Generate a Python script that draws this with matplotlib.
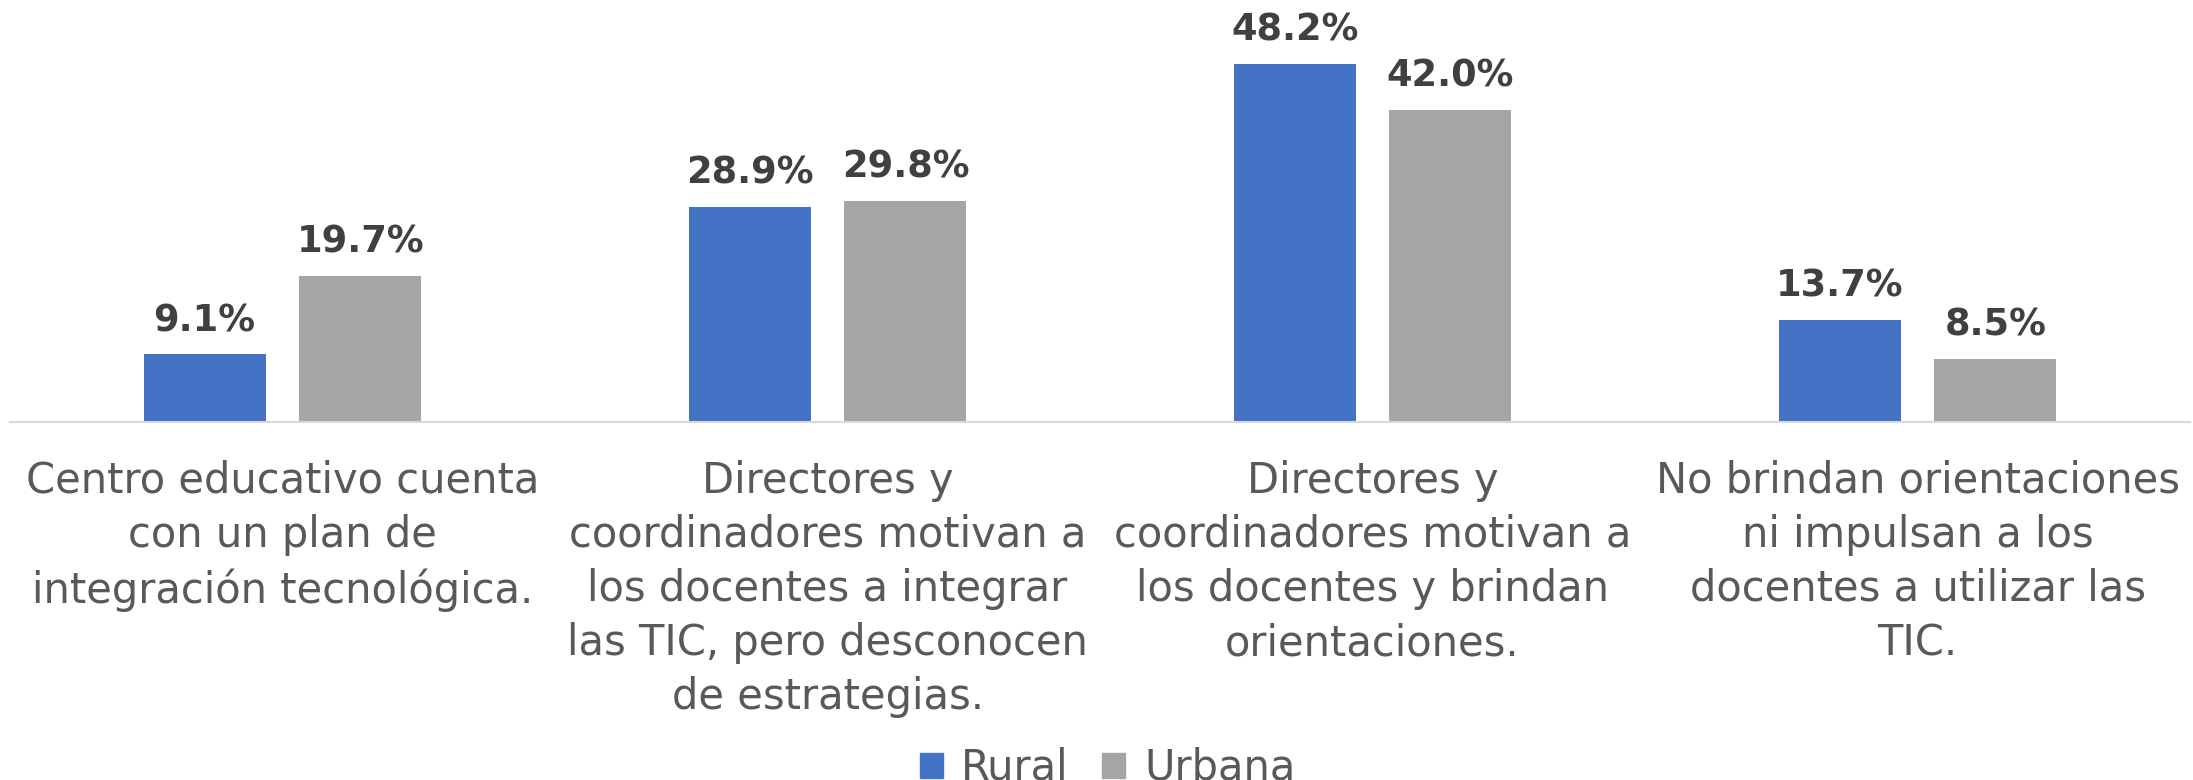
import numpy as np
import matplotlib.pyplot as plt
from matplotlib.patches import Patch

# datos
categorias = [
    "Centro educativo cuenta\ncon un plan de\nintegración tecnológica.",
    "Directores y\ncoordinadores motivan a\nlos docentes a integrar\nlas TIC, pero desconocen\nde estrategias.",
    "Directores y\ncoordinadores motivan a\nlos docentes y brindan\norientaciones.",
    "No brindan orientaciones\nni impulsan a los\ndocentes a utilizar las\nTIC.",
]
rural = [9.1, 28.9, 48.2, 13.7]
urbana = [19.7, 29.8, 42.0, 8.5]
series = ["Rural", "Urbana"]

azul = "#4472C4"
gris = "#A5A5A5"
fuente = "DejaVu Sans"

fig = plt.figure(figsize=(21.93, 7.8), dpi=100)
ax = fig.add_axes([10 / 2193, 1 - 422 / 780, 2180 / 2193, 422 / 780])

x = np.arange(len(categorias))
ancho = 0.224
sep = 0.143
b1 = ax.bar(x - sep, rural, ancho, color=azul, label=series[0])
b2 = ax.bar(x + sep, urbana, ancho, color=gris, label=series[1])

for barras in (b1, b2):
    for b in barras:
        ax.annotate(f"{b.get_height():.1f}%",
                    (b.get_x() + b.get_width() / 2, b.get_height()),
                    xytext=(0, 11), textcoords="offset points",
                    ha="center", va="bottom", fontsize=26.5, fontweight="bold",
                    color="#404040", family=fuente)

for i, cat in enumerate(categorias):
    ax.annotate(cat, (i, 0), xytext=(0, -27), textcoords="offset points",
                ha="center", va="top", multialignment="center",
                fontsize=30, color="#595959", family=fuente, linespacing=1.37)

ax.set_xlim(-0.5, 3.5)
ax.set_ylim(0, 422 / 7.43)
for s in ["top", "right", "left"]:
    ax.spines[s].set_visible(False)
ax.spines["bottom"].set_color("#D9D9D9")
ax.spines["bottom"].set_linewidth(1.5)
ax.set_xticks([])
ax.set_yticks([])

fig.legend(handles=[Patch(color=azul), Patch(color=gris)], labels=series,
           loc="upper center", bbox_to_anchor=(0.505, 1 - 726 / 780),
           frameon=False, ncol=2, handlelength=0.55, handleheight=0.55,
           handletextpad=0.45, columnspacing=0.8, borderpad=0,
           prop={"family": fuente, "size": 30}, labelcolor="#595959")

plt.savefig("out.png", dpi=100)
